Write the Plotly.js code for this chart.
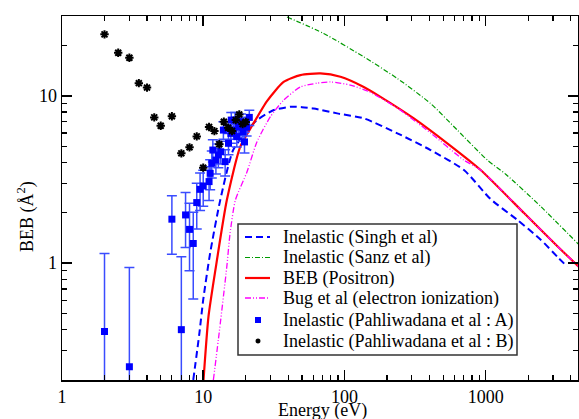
<!DOCTYPE html>
<html>
<head>
<meta charset="utf-8">
<script src="https://cdn.plot.ly/plotly-3.0.1.min.js"></script>
<style>html,body{margin:0;padding:0;background:#fff;}#chart{width:579px;height:419px;}</style>
</head>
<body>
<div id="chart"></div>
<script>
// Inelastic (Singh et al)
const singhE = [8.5, 9.4, 10.0, 11.2, 13.2, 16.3, 21.5, 24, 31.6, 41.6, 50, 60.6, 88.8, 137, 237, 407, 702, 1085, 1679, 2455, 3222, 3796];
const singhV = [0.2, 0.382, 0.604, 1.15, 2.38, 4.74, 6.53, 7.16, 8.22, 8.6, 8.55, 8.4, 7.85, 7.33, 5.97, 4.74, 3.6, 2.41, 1.81, 1.38, 1.09, 0.95];
// Inelastic (Sanz et al)
const sanzE = [39.2, 71.3, 137, 237, 407, 630, 1028, 1387, 2455, 4570];
const sanzV = [29.6, 23.6, 17.1, 12.7, 9.0, 6.24, 4.13, 3.4, 2.18, 1.29];
// BEB (Positron)
const bebE = [10.05, 10.9, 12.2, 14.7, 18.3, 22.7, 28.3, 37.1, 48.8, 67.6, 93.7, 137, 180, 310, 535, 922, 1870, 3222, 4570];
const bebV = [0.2, 0.48, 0.91, 2.38, 4.97, 6.84, 9.3, 12.1, 13.3, 13.6, 13.0, 11.3, 9.86, 7.33, 5.2, 3.6, 1.99, 1.26, 0.95];
// Bug et al (electron ionization)
const bugE = [11.8, 12.8, 14.7, 15.5, 16.9, 20.4, 24, 29.9, 37.1, 48.8, 64, 80, 110, 149, 237, 407, 700, 922, 1870, 3222, 4570];
const bugV = [0.2, 0.348, 0.955, 1.51, 2.38, 3.5, 5.3, 7.5, 9.42, 11.3, 11.9, 12.1, 11.6, 10.6, 8.45, 6.0, 4.13, 3.6, 1.99, 1.26, 0.95];
// Inelastic (Pahliwadana et al : A)
const pahAE = [2, 3, 6, 7, 7.5, 8, 8.5, 9, 9.5, 10, 11, 11.2, 11.5, 11.7, 12.3, 12.8, 13.3, 13.9, 14.3, 15.1, 15.7, 15.8, 16.4, 16.8, 17.3, 17.8, 18.5, 18.9, 19.1, 19.6, 20.3, 21.2];
const pahAV = [0.39, 0.24, 1.83, 0.40, 1.94, 1.59, 1.31, 2.3, 2.76, 2.89, 3.07, 3.44, 3.95, 4.74, 4.13, 4.43, 4.63, 6.24, 4.04, 5.2, 5.96, 7.16, 6.24, 7.16, 5.7, 6.52, 7.0, 6.7, 6.1, 5.3, 6.5, 7.43];
const pahAErr = [0.75, 0.70, 0.70, 0.69, 0.70, 0.69, 0.70, 0.70, 0.70, 0.70, 0.70, 0.70, 0.72, 0.72, 0.72, 0.72, 0.72, 0.75, 0.72, 0.75, 0.75, 0.78, 0.75, 0.78, 0.75, 0.75, 0.78, 0.75, 0.75, 0.75, 0.75, 0.78];
// Inelastic (Pahliwadana et al : B)
const pahBE = [2, 2.5, 3, 3.5, 4, 4.5, 5, 6, 7, 8, 9, 10, 11, 12, 13, 14, 15, 16, 17, 18, 19, 20];
const pahBV = [23.3, 18.1, 16.9, 11.9, 11.2, 7.43, 6.62, 7.54, 4.53, 4.92, 5.72, 3.72, 6.51, 6.15, 5.13, 7.0, 6.44, 6.16, 7.16, 7.74, 6.78, 6.97];

const seriesNames = ['Inelastic (Singh et al)', 'Inelastic (Sanz et al)', 'BEB (Positron)', 'Bug et al (electron ionization)', 'Inelastic (Pahliwadana et al : A)', 'Inelastic (Pahliwadana et al : B)'];
const xTitle = 'Energy (eV)';
const yTitle = 'BEB (Å<sup>2</sup>)';

const FONT = '"Liberation Serif", "DejaVu Serif", serif';
const W = 579, H = 419, ML = 62, MR = 1, MT = 16, MB = 39;
const PW = W - ML - MR, PH = H - MT - MB;
const px = v => (v - ML) / PW;          // pixel x -> paper
const py = v => (H - MB - v) / PH;      // pixel y -> paper

const styles = [
  {color: '#0000ff', width: 2, dash: '7px,4px'},
  {color: '#009a00', width: 1.2, dash: '5px,2px,1px,2px'},
  {color: '#ff0000', width: 2.2, dash: 'solid'},
  {color: '#ff00ff', width: 1.3, dash: '6px,2px,1px,2px,1px,2px'}
];
const curve = s => Object.assign({}, s, {shape: 'spline', smoothing: 0.6});

const traces = [
  {x: singhE, y: singhV, name: seriesNames[0], mode: 'lines', line: curve(styles[0])},
  {x: sanzE, y: sanzV, name: seriesNames[1], mode: 'lines', line: curve(styles[1])},
  {x: bebE, y: bebV, name: seriesNames[2], mode: 'lines', line: curve(styles[2])},
  {x: bugE, y: bugV, name: seriesNames[3], mode: 'lines', line: curve(styles[3])},
  {x: pahAE, y: pahAV, name: seriesNames[4], mode: 'markers',
   marker: {symbol: 'square', size: 7, color: '#0000ff'},
   error_y: {type: 'data', array: pahAErr, visible: true, color: '#3a4cff', thickness: 1.5, width: 5}},
  {x: pahBE, y: pahBV, name: seriesNames[5], mode: 'markers',
   marker: {symbol: 'asterisk-open', size: 7, color: '#000', line: {color: '#000', width: 2}}}
];

const axisCommon = {
  type: 'log', showgrid: false, zeroline: false,
  showline: true, linecolor: '#000', linewidth: 1.5, mirror: 'allticks',
  ticks: 'inside', ticklen: 10, tickwidth: 1.5, tickcolor: '#000',
  dtick: 1, exponentformat: 'none',
  tickfont: {family: FONT, size: 18, color: '#000'},
  minor: {ticks: 'inside', ticklen: 5, tickwidth: 1.2, tickcolor: '#000', dtick: 'D1', showgrid: false}
};

// Legend drawn as a framed box (layout only)
const legRows = [237, 257.5, 278, 298, 320, 341];
const shapes = [
  {type: 'rect', xref: 'paper', yref: 'paper', x0: px(238), x1: px(517), y0: py(355), y1: py(224),
   line: {color: '#333', width: 1.5}, fillcolor: '#fff', layer: 'above'}
];
const annotations = [
  {text: xTitle, xref: 'paper', yref: 'paper', x: px(322), y: py(411), xanchor: 'center', yanchor: 'middle',
   showarrow: false, font: {family: FONT, size: 18, color: '#000'}},
  {text: yTitle, xref: 'paper', yref: 'paper', x: px(26), y: py(217), xanchor: 'center', yanchor: 'middle',
   textangle: -90, showarrow: false, font: {family: FONT, size: 18, color: '#000'}}
];
for (let i = 0; i < 4; i++) {
  shapes.push({type: 'line', xref: 'paper', yref: 'paper', x0: px(245), x1: px(270), y0: py(legRows[i]), y1: py(legRows[i]),
    line: {color: styles[i].color, width: styles[i].width, dash: styles[i].dash}, layer: 'above'});
}
// square sample
shapes.push({type: 'rect', xref: 'paper', yref: 'paper', x0: px(255), x1: px(261), y0: py(legRows[4] + 3), y1: py(legRows[4] - 3),
  line: {width: 0}, fillcolor: '#0000ff', layer: 'above'});
// asterisk sample
(function () {
  const cx = 258, cy = legRows[5], r = 2.5, d = 1.8;
  const p = `M${px(cx - r)},${py(cy)}L${px(cx + r)},${py(cy)}M${px(cx)},${py(cy - r)}L${px(cx)},${py(cy + r)}` +
            `M${px(cx - d)},${py(cy - d)}L${px(cx + d)},${py(cy + d)}M${px(cx - d)},${py(cy + d)}L${px(cx + d)},${py(cy - d)}`;
  shapes.push({type: 'path', xref: 'paper', yref: 'paper', path: p, line: {color: '#000', width: 1.5}, layer: 'above'});
})();
for (let i = 0; i < seriesNames.length; i++) {
  annotations.push({text: seriesNames[i], xref: 'paper', yref: 'paper', x: px(281), y: py(legRows[i]),
    xanchor: 'left', yanchor: 'middle', showarrow: false, font: {family: FONT, size: 18, color: '#000'}});
}

const layout = {
  width: W, height: H,
  margin: {l: ML, r: MR, t: MT, b: MB},
  paper_bgcolor: '#fff', plot_bgcolor: '#fff',
  font: {family: FONT, size: 18, color: '#000'},
  xaxis: Object.assign({}, axisCommon, {range: [0, 3.654]}),
  yaxis: Object.assign({}, axisCommon, {range: [Math.log10(0.2), Math.log10(30)]}),
  showlegend: false,
  shapes: shapes,
  annotations: annotations
};

Plotly.newPlot('chart', traces, layout, {staticPlot: true, displayModeBar: false});
</script>
</body>
</html>
